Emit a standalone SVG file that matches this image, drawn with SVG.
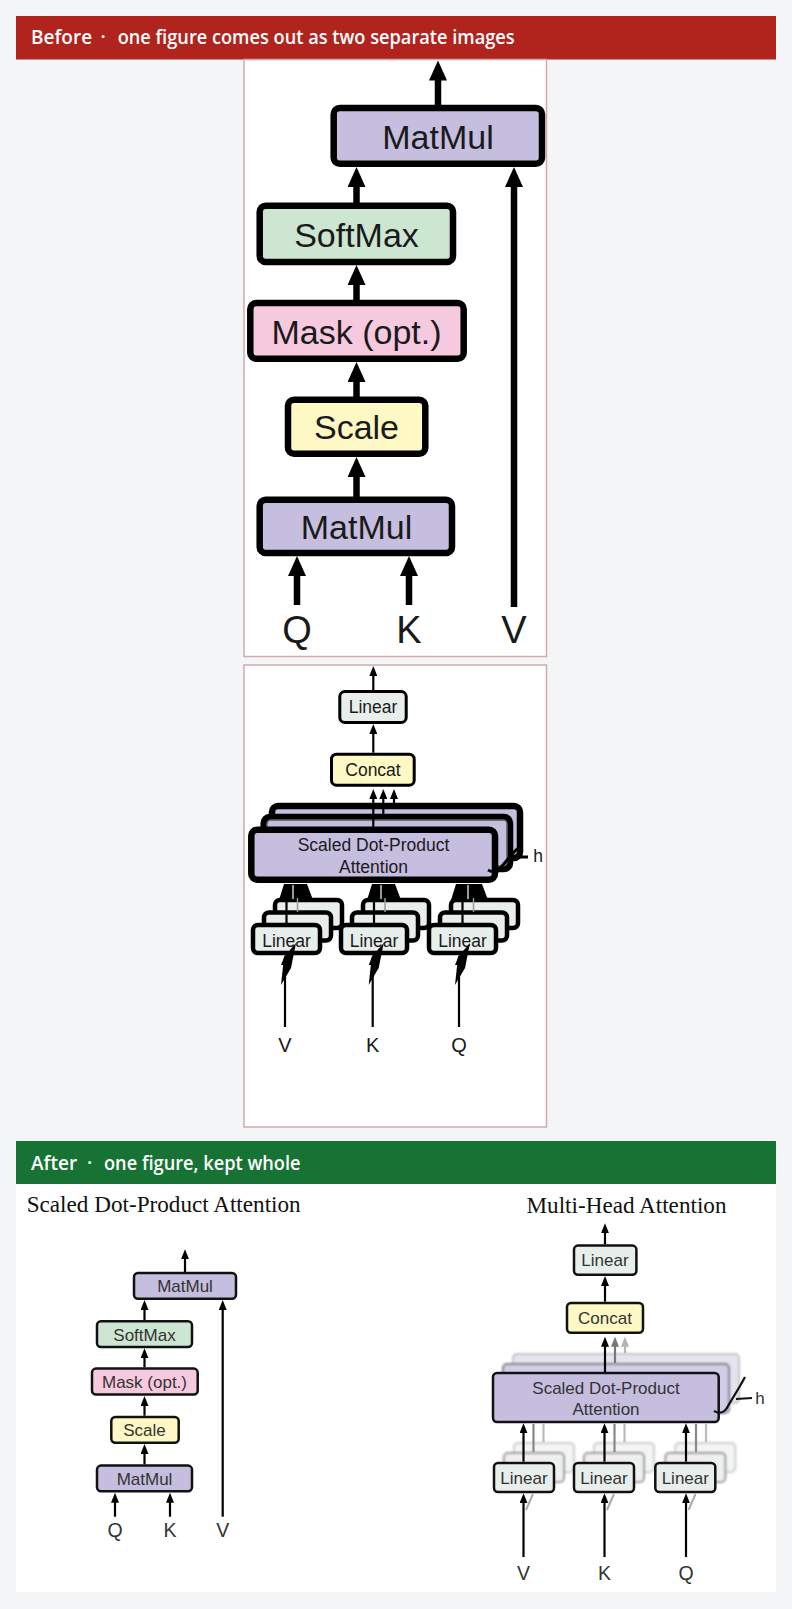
<svg xmlns="http://www.w3.org/2000/svg" width="792" height="1609" viewBox="0 0 792 1609">
<defs>
<style>
.sans{font-family:"Liberation Sans",Arial,sans-serif}
.serif{font-family:"Liberation Serif","Times New Roman",serif;fill:#111;font-size:23px}
.hdr{font-family:"Open Sans","Noto Sans",sans-serif;font-weight:600;font-size:19px;fill:#fff}
.panel{fill:#fff;stroke:#d4aaaa;stroke-width:1.5}
.bx1{stroke:#000;stroke-width:6.5}
.bx2{stroke:#000;stroke-width:3}
.bx2t{stroke:#000;stroke-width:4.5}
.bx3{stroke:#111;stroke-width:2.5}
.mm{fill:#c5bedf}.sm{fill:#cde6d2}.mk{fill:#f7c9df}.sc{fill:#fdf8c4}.ln{fill:#e8eeec}
.t1{font-size:34px;fill:#1a1a1a;text-anchor:middle}
.t1l{font-size:38px;fill:#1a1a1a;text-anchor:middle}
.t2{font-size:17.5px;fill:#1a1a1a;text-anchor:middle}
.t2l{font-size:20px;fill:#1a1a1a;text-anchor:middle}
.t3{font-size:17px;fill:#333;text-anchor:middle}
.t3l{font-size:19.5px;fill:#333;text-anchor:middle}
.a1{stroke:#000;stroke-width:6.5;fill:none;marker-end:url(#ah1)}
.a2{stroke:#000;stroke-width:2.2;fill:none;marker-end:url(#ah2)}
.a2g{stroke:#777;stroke-width:2.2;fill:none;marker-end:url(#ah2g)}
.a2l{stroke:#b4b4b4;stroke-width:2.2;fill:none;marker-end:url(#ah2l)}
.ln0{stroke:#000;stroke-width:2.2;fill:none}
</style>
<marker id="ah1" viewBox="0 0 20 18" refX="1" refY="9" markerWidth="20" markerHeight="18" markerUnits="userSpaceOnUse" orient="auto"><path d="M0,0 L20,9 L0,18 Z" fill="#000"/></marker>
<marker id="ah2" viewBox="0 0 10 8" refX="1" refY="4" markerWidth="10" markerHeight="8" markerUnits="userSpaceOnUse" orient="auto"><path d="M0,0 L10,4 L0,8 Z" fill="#000"/></marker>
<marker id="ah2g" viewBox="0 0 10 8" refX="1" refY="4" markerWidth="10" markerHeight="8" markerUnits="userSpaceOnUse" orient="auto"><path d="M0,0 L10,4 L0,8 Z" fill="#777"/></marker>
<marker id="ah2l" viewBox="0 0 10 8" refX="1" refY="4" markerWidth="10" markerHeight="8" markerUnits="userSpaceOnUse" orient="auto"><path d="M0,0 L10,4 L0,8 Z" fill="#b4b4b4"/></marker>
<filter id="soft" x="-5%" y="-10%" width="110%" height="120%"><feGaussianBlur stdDeviation="0.8"/></filter>
</defs>

<rect x="0" y="0" width="792" height="1609" fill="#f4f5f7"/>

<!-- Before section -->
<g id="before-header">
<rect x="16" y="16" width="760" height="43.5" fill="#b1241e"/>
<text class="hdr" y="44"><tspan x="31">Before</tspan><tspan x="103" text-anchor="middle">·</tspan><tspan x="117.7" textLength="397" lengthAdjust="spacingAndGlyphs">one figure comes out as two separate images</tspan></text>
</g>
<rect id="before-panel-1" class="panel" x="244" y="59.5" width="302.5" height="597"/>
<rect id="before-panel-2" class="panel" x="244" y="665" width="302.5" height="462"/>

<!-- Before panel 1 nodes -->
<g id="b1-matmul-top" class="sans"><rect class="bx1 mm" x="333.7" y="108" width="208.3" height="55.7" rx="6"/><text class="t1" x="438" y="148.5">MatMul</text></g>
<g id="b1-softmax" class="sans"><rect class="bx1 sm" x="259.7" y="205.7" width="193.3" height="56.3" rx="6"/><text class="t1" x="356.5" y="246.5">SoftMax</text></g>
<g id="b1-mask" class="sans"><rect class="bx1 mk" x="250.3" y="303" width="213.4" height="55.7" rx="6"/><text class="t1" x="356.5" y="343.5">Mask (opt.)</text></g>
<g id="b1-scale" class="sans"><rect class="bx1 sc" x="288" y="399.7" width="137.3" height="54" rx="6"/><text class="t1" x="356.5" y="438.5">Scale</text></g>
<g id="b1-matmul-bottom" class="sans"><rect class="bx1 mm" x="259.7" y="499.7" width="192.3" height="53.3" rx="6"/><text class="t1" x="356.5" y="539">MatMul</text></g>
<g id="b1-q" class="sans"><text class="t1l" x="297" y="643">Q</text></g>
<g id="b1-k" class="sans"><text class="t1l" x="409" y="643">K</text></g>
<g id="b1-v" class="sans"><text class="t1l" x="514" y="643">V</text></g>

<!-- Before panel 2 nodes -->
<g id="b2-linear-top" class="sans"><rect class="bx2 ln" x="339.8" y="691.5" width="66.4" height="31" rx="5"/><text class="t2" x="373" y="713">Linear</text></g>
<g id="b2-concat" class="sans"><rect class="bx2 sc" x="331.5" y="754.2" width="82.7" height="31" rx="5"/><text class="t2" x="373" y="775.5">Concat</text></g>
<g id="b2-sdpa" class="sans">
<rect class="bx1 mm" x="272" y="806" width="248" height="52" rx="6"/>
<rect class="bx1 mm" x="263.7" y="817" width="246.3" height="52" rx="6"/>
<rect x="267" y="820" width="240" height="46" rx="4" fill="none" stroke="#666" stroke-width="1.5"/>
<rect class="bx1 mm" x="251.3" y="829.7" width="243.7" height="50" rx="6"/>
<text class="t2" x="373.5" y="851">Scaled Dot-Product</text>
<text class="t2" x="373.5" y="873">Attention</text>
</g>
<g id="b2-h" class="sans">
<path d="M488,870 Q497,875 502,866 L514,852 Q519,847 521,846 M511,857 L528,857" fill="none" stroke="#000" stroke-width="3"/>
<text class="t2" x="538" y="862">h</text>
</g>
<g id="b2-linear-v" class="sans">
<rect class="bx2t ln" x="275" y="900" width="67" height="28" rx="5"/>
<rect class="bx2t ln" x="264" y="912.5" width="67" height="28" rx="5"/>
<rect class="bx2t ln" x="253" y="925" width="67" height="28" rx="5"/>
<text class="t2" x="286.5" y="946.5">Linear</text>
</g>
<g id="b2-linear-k" class="sans">
<rect class="bx2t ln" x="363" y="900" width="66" height="28" rx="5"/>
<rect class="bx2t ln" x="352" y="912.5" width="66" height="28" rx="5"/>
<rect class="bx2t ln" x="341" y="925" width="66" height="28" rx="5"/>
<text class="t2" x="374" y="946.5">Linear</text>
</g>
<g id="b2-linear-q" class="sans">
<rect class="bx2t ln" x="451" y="900" width="67" height="28" rx="5"/>
<rect class="bx2t ln" x="440" y="912.5" width="67" height="28" rx="5"/>
<rect class="bx2t ln" x="429" y="925" width="67" height="28" rx="5"/>
<text class="t2" x="462.5" y="946.5">Linear</text>
</g>
<g id="b2-v" class="sans"><text class="t2l" x="285" y="1052">V</text></g>
<g id="b2-k" class="sans"><text class="t2l" x="372.7" y="1052">K</text></g>
<g id="b2-q" class="sans"><text class="t2l" x="459" y="1052">Q</text></g>

<!-- After section -->
<g id="after-header">
<rect x="16" y="1141" width="760" height="43" fill="#167333"/>
<text class="hdr" y="1169.5"><tspan x="31">After</tspan><tspan x="89.5" text-anchor="middle">·</tspan><tspan x="104" textLength="196.5" lengthAdjust="spacingAndGlyphs">one figure, kept whole</tspan></text>
</g>
<rect id="after-panel" x="16" y="1184" width="760" height="408" fill="#fff"/>
<text id="title-sdpa" class="serif" x="26.7" y="1212" textLength="274" lengthAdjust="spacingAndGlyphs">Scaled Dot-Product Attention</text>
<text id="title-mha" class="serif" x="526.5" y="1213" textLength="200" lengthAdjust="spacingAndGlyphs">Multi-Head Attention</text>

<!-- After left nodes -->
<g id="a1-matmul-top" class="sans"><rect class="bx3 mm" x="134" y="1273" width="102" height="25.7" rx="4"/><text class="t3" x="185" y="1292">MatMul</text></g>
<g id="a1-softmax" class="sans"><rect class="bx3 sm" x="97" y="1321.3" width="95" height="25.7" rx="4"/><text class="t3" x="144.5" y="1340.5">SoftMax</text></g>
<g id="a1-mask" class="sans"><rect class="bx3 mk" x="92" y="1368.6" width="105.7" height="26" rx="4"/><text class="t3" x="144.5" y="1388">Mask (opt.)</text></g>
<g id="a1-scale" class="sans"><rect class="bx3 sc" x="111.3" y="1417" width="67.4" height="25.7" rx="4"/><text class="t3" x="144.5" y="1436">Scale</text></g>
<g id="a1-matmul-bottom" class="sans"><rect class="bx3 mm" x="97" y="1465.6" width="95" height="25.7" rx="4"/><text class="t3" x="144.5" y="1484.5">MatMul</text></g>
<g id="a1-q" class="sans"><text class="t3l" x="115" y="1537">Q</text></g>
<g id="a1-k" class="sans"><text class="t3l" x="170" y="1537">K</text></g>
<g id="a1-v" class="sans"><text class="t3l" x="222.7" y="1537">V</text></g>

<!-- After right nodes -->
<g id="a2-linear-top" class="sans"><rect class="bx3 ln" x="574" y="1245.6" width="62.4" height="29.2" rx="4"/><text class="t3" x="605" y="1266">Linear</text></g>
<g id="a2-concat" class="sans"><rect class="bx3 sc" x="567" y="1303" width="76" height="29.7" rx="4"/><text class="t3" x="605" y="1323.5">Concat</text></g>
<g id="a2-sdpa" class="sans">
<rect x="513" y="1354" width="226" height="49" rx="4" fill="#e6e3f1" stroke="#c4c4c4" stroke-width="2" filter="url(#soft)"/>
<rect x="503" y="1364" width="226" height="49" rx="4" fill="#d2cce6" stroke="#808080" stroke-width="2" filter="url(#soft)"/>
<rect class="bx3 mm" x="493" y="1373" width="225.7" height="49" rx="4"/>
<text class="t3" x="606" y="1394">Scaled Dot-Product</text>
<text class="t3" x="606" y="1415">Attention</text>
</g>
<g id="a2-h" class="sans">
<path d="M714,1411 Q723,1416 728,1406 L740,1386 Q744,1379 745,1377 M736,1399 L752,1398" fill="none" stroke="#111" stroke-width="2.2"/>
<text class="t3" x="760" y="1404">h</text>
</g>
<g id="a2-linear-v" class="sans">
<rect x="514" y="1443" width="60" height="29" rx="4" fill="#f3f5f4" stroke="#cfcfcf" stroke-width="2" filter="url(#soft)"/>
<rect x="504" y="1453" width="60" height="29" rx="4" fill="#edf0ef" stroke="#9a9a9a" stroke-width="2" filter="url(#soft)"/>
<rect class="bx3 ln" x="494" y="1463" width="60" height="29" rx="4"/>
<text class="t3" x="524" y="1483.5">Linear</text>
</g>
<g id="a2-linear-k" class="sans">
<rect x="594" y="1443" width="60" height="29" rx="4" fill="#f3f5f4" stroke="#cfcfcf" stroke-width="2" filter="url(#soft)"/>
<rect x="584" y="1453" width="60" height="29" rx="4" fill="#edf0ef" stroke="#9a9a9a" stroke-width="2" filter="url(#soft)"/>
<rect class="bx3 ln" x="574" y="1463" width="60" height="29" rx="4"/>
<text class="t3" x="604" y="1483.5">Linear</text>
</g>
<g id="a2-linear-q" class="sans">
<rect x="675.3" y="1443" width="60" height="29" rx="4" fill="#f3f5f4" stroke="#cfcfcf" stroke-width="2" filter="url(#soft)"/>
<rect x="665.3" y="1453" width="60" height="29" rx="4" fill="#edf0ef" stroke="#9a9a9a" stroke-width="2" filter="url(#soft)"/>
<rect class="bx3 ln" x="655.3" y="1463" width="60" height="29" rx="4"/>
<text class="t3" x="685.3" y="1483.5">Linear</text>
</g>
<g id="a2-v" class="sans"><text class="t3l" x="523.5" y="1579.5">V</text></g>
<g id="a2-k" class="sans"><text class="t3l" x="604.5" y="1579.5">K</text></g>
<g id="a2-q" class="sans"><text class="t3l" x="686" y="1579.5">Q</text></g>

<!-- Connectors -->
<g id="connectors">
<!-- before panel 1 -->
<path class="a1" d="M438,105 L438,79.5"/>
<path class="a1" d="M356.5,203 L356.5,186"/>
<path class="a1" d="M514,607 L514,186"/>
<path class="a1" d="M356.5,300 L356.5,284"/>
<path class="a1" d="M356.5,397 L356.5,381"/>
<path class="a1" d="M356.5,497 L356.5,476"/>
<path class="a1" d="M297,605 L297,575"/>
<path class="a1" d="M409,605 L409,575"/>
<!-- before panel 2 -->
<path class="a2" d="M373.3,690 L373.3,675"/>
<path class="a2" d="M373.3,752.7 L373.3,733"/>
<path class="a2" d="M373.3,827 L373.3,798"/>
<path class="a2" d="M383.3,814 L383.3,798"/>
<path class="a2" d="M394,803 L394,798"/>
<path d="M279,900 L284,884 L307,884 L313,900 Z M367,900 L372,884 L395,884 L401,900 Z M451,900 L456,884 L482,884 L488,900 Z" fill="#000"/>
<path d="M293,885 L293,899 M381,885 L381,899 M468,885 L468,899" stroke="#ccc" stroke-width="1.5"/>
<path class="ln0" d="M286.5,925 L286.5,884 M374,925 L374,884 M462.5,925 L462.5,884"/>
<path d="M297.5,912 L297.5,898 M385,912 L385,898 M473.5,912 L473.5,898" stroke="#999" stroke-width="1.5"/>
<path class="a2" d="M285,1027 L285,964"/>
<path class="a2" d="M372.7,1027 L372.7,964"/>
<path class="a2" d="M459,1027 L459,964"/>
<path d="M281,985 L284,957 L296,943 L291,968 Z M368.7,985 L371.7,957 L383.7,943 L378.7,968 Z M455,985 L458,957 L470,943 L465,968 Z" fill="#000"/>
<!-- after left -->
<path class="a2" d="M185,1272 L185,1258.3"/>
<path class="a2" d="M144.5,1320 L144.5,1309"/>
<path class="a2" d="M144.5,1367.3 L144.5,1357.3"/>
<path class="a2" d="M144.5,1415.7 L144.5,1405"/>
<path class="a2" d="M144.5,1464.3 L144.5,1453"/>
<path class="a2" d="M115,1516.7 L115,1501.7"/>
<path class="a2" d="M170,1516.7 L170,1501.7"/>
<path class="a2" d="M222.7,1516.7 L222.7,1309"/>
<!-- after right -->
<path class="a2" d="M605,1244.3 L605,1232.3"/>
<path class="a2" d="M605,1301.7 L605,1285"/>
<path class="a2l" d="M625,1353 L625,1345.7"/>
<path class="a2g" d="M615,1363 L615,1345.7"/>
<path class="a2" d="M605,1372 L605,1345.7"/>
<path d="M543.5,1442 L543.5,1424 M624.5,1442 L624.5,1424 M706,1442 L706,1424" stroke="#bbb" stroke-width="2.2" fill="none"/>
<path d="M533.5,1452 L533.5,1424 M614.5,1452 L614.5,1424 M696,1452 L696,1424" stroke="#888" stroke-width="2.2" fill="none"/>
<path class="a2" d="M523.5,1461.7 L523.5,1432.3"/>
<path class="a2" d="M604.5,1461.7 L604.5,1432.3"/>
<path class="a2" d="M686,1461.7 L686,1432.3"/>
<path d="M526,1510 L533,1494 M607,1510 L614,1494 M688.5,1510 L695.5,1494" stroke="#aaa" stroke-width="2" fill="none"/>
<path class="a2" d="M523.5,1557 L523.5,1502.3"/>
<path class="a2" d="M604.5,1557 L604.5,1502.3"/>
<path class="a2" d="M686,1557 L686,1502.3"/>
</g>
</svg>
